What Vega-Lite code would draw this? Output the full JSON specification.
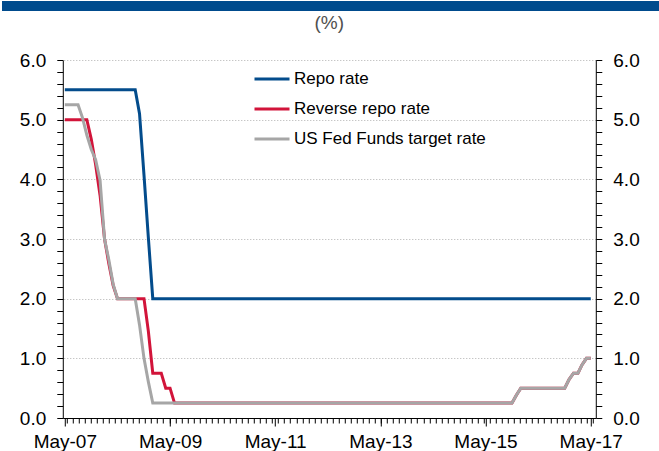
{
  "$schema": "https://vega.github.io/schema/vega-lite/v6.json",
  "padding": 0,
  "background": "white",
  "spacing": 3,
  "center": true,
  "config": {"view": {"stroke": null}, "font": "Liberation Sans"},
  "vconcat": [
    {
      "width": 698,
      "height": 10,
      "view": {"fill": "#004B8D", "stroke": null},
      "data": {"values": [{"t": ""}]},
      "mark": {"type": "text"},
      "encoding": {"text": {"field": "t"}}
    },
    {
      "width": 533,
      "height": 358,
      "title": {"text": "(%)", "fontSize": 19, "font": "Liberation Sans", "fontWeight": "normal", "color": "#505050", "anchor": "middle", "offset": 18},
      "data": {"values": [
        {"date":"2007-05-01","repo":5.5,"reverse":5,"fed":5.25},
        {"date":"2007-06-01","repo":5.5,"reverse":5,"fed":5.25},
        {"date":"2007-07-01","repo":5.5,"reverse":5,"fed":5.25},
        {"date":"2007-08-01","repo":5.5,"reverse":5,"fed":5.25},
        {"date":"2007-09-01","repo":5.5,"reverse":5,"fed":5.03},
        {"date":"2007-10-01","repo":5.5,"reverse":5,"fed":4.74},
        {"date":"2007-11-01","repo":5.5,"reverse":4.67,"fed":4.5},
        {"date":"2007-12-01","repo":5.5,"reverse":4.25,"fed":4.33},
        {"date":"2008-01-01","repo":5.5,"reverse":3.73,"fed":3.98},
        {"date":"2008-02-01","repo":5.5,"reverse":3,"fed":3},
        {"date":"2008-03-01","repo":5.5,"reverse":2.6,"fed":2.66},
        {"date":"2008-04-01","repo":5.5,"reverse":2.22,"fed":2.24},
        {"date":"2008-05-01","repo":5.5,"reverse":2,"fed":2},
        {"date":"2008-06-01","repo":5.5,"reverse":2,"fed":2},
        {"date":"2008-07-01","repo":5.5,"reverse":2,"fed":2},
        {"date":"2008-08-01","repo":5.5,"reverse":2,"fed":2},
        {"date":"2008-09-01","repo":5.5,"reverse":2,"fed":2},
        {"date":"2008-10-01","repo":5.1,"reverse":2,"fed":1.56},
        {"date":"2008-11-01","repo":4.07,"reverse":2,"fed":1},
        {"date":"2008-12-01","repo":3.03,"reverse":1.46,"fed":0.61},
        {"date":"2009-01-01","repo":2,"reverse":0.75,"fed":0.25},
        {"date":"2009-02-01","repo":2,"reverse":0.75,"fed":0.25},
        {"date":"2009-03-01","repo":2,"reverse":0.75,"fed":0.25},
        {"date":"2009-04-01","repo":2,"reverse":0.5,"fed":0.25},
        {"date":"2009-05-01","repo":2,"reverse":0.5,"fed":0.25},
        {"date":"2009-06-01","repo":2,"reverse":0.25,"fed":0.25},
        {"date":"2009-07-01","repo":2,"reverse":0.25,"fed":0.25},
        {"date":"2009-08-01","repo":2,"reverse":0.25,"fed":0.25},
        {"date":"2009-09-01","repo":2,"reverse":0.25,"fed":0.25},
        {"date":"2009-10-01","repo":2,"reverse":0.25,"fed":0.25},
        {"date":"2009-11-01","repo":2,"reverse":0.25,"fed":0.25},
        {"date":"2009-12-01","repo":2,"reverse":0.25,"fed":0.25},
        {"date":"2010-01-01","repo":2,"reverse":0.25,"fed":0.25},
        {"date":"2010-02-01","repo":2,"reverse":0.25,"fed":0.25},
        {"date":"2010-03-01","repo":2,"reverse":0.25,"fed":0.25},
        {"date":"2010-04-01","repo":2,"reverse":0.25,"fed":0.25},
        {"date":"2010-05-01","repo":2,"reverse":0.25,"fed":0.25},
        {"date":"2010-06-01","repo":2,"reverse":0.25,"fed":0.25},
        {"date":"2010-07-01","repo":2,"reverse":0.25,"fed":0.25},
        {"date":"2010-08-01","repo":2,"reverse":0.25,"fed":0.25},
        {"date":"2010-09-01","repo":2,"reverse":0.25,"fed":0.25},
        {"date":"2010-10-01","repo":2,"reverse":0.25,"fed":0.25},
        {"date":"2010-11-01","repo":2,"reverse":0.25,"fed":0.25},
        {"date":"2010-12-01","repo":2,"reverse":0.25,"fed":0.25},
        {"date":"2011-01-01","repo":2,"reverse":0.25,"fed":0.25},
        {"date":"2011-02-01","repo":2,"reverse":0.25,"fed":0.25},
        {"date":"2011-03-01","repo":2,"reverse":0.25,"fed":0.25},
        {"date":"2011-04-01","repo":2,"reverse":0.25,"fed":0.25},
        {"date":"2011-05-01","repo":2,"reverse":0.25,"fed":0.25},
        {"date":"2011-06-01","repo":2,"reverse":0.25,"fed":0.25},
        {"date":"2011-07-01","repo":2,"reverse":0.25,"fed":0.25},
        {"date":"2011-08-01","repo":2,"reverse":0.25,"fed":0.25},
        {"date":"2011-09-01","repo":2,"reverse":0.25,"fed":0.25},
        {"date":"2011-10-01","repo":2,"reverse":0.25,"fed":0.25},
        {"date":"2011-11-01","repo":2,"reverse":0.25,"fed":0.25},
        {"date":"2011-12-01","repo":2,"reverse":0.25,"fed":0.25},
        {"date":"2012-01-01","repo":2,"reverse":0.25,"fed":0.25},
        {"date":"2012-02-01","repo":2,"reverse":0.25,"fed":0.25},
        {"date":"2012-03-01","repo":2,"reverse":0.25,"fed":0.25},
        {"date":"2012-04-01","repo":2,"reverse":0.25,"fed":0.25},
        {"date":"2012-05-01","repo":2,"reverse":0.25,"fed":0.25},
        {"date":"2012-06-01","repo":2,"reverse":0.25,"fed":0.25},
        {"date":"2012-07-01","repo":2,"reverse":0.25,"fed":0.25},
        {"date":"2012-08-01","repo":2,"reverse":0.25,"fed":0.25},
        {"date":"2012-09-01","repo":2,"reverse":0.25,"fed":0.25},
        {"date":"2012-10-01","repo":2,"reverse":0.25,"fed":0.25},
        {"date":"2012-11-01","repo":2,"reverse":0.25,"fed":0.25},
        {"date":"2012-12-01","repo":2,"reverse":0.25,"fed":0.25},
        {"date":"2013-01-01","repo":2,"reverse":0.25,"fed":0.25},
        {"date":"2013-02-01","repo":2,"reverse":0.25,"fed":0.25},
        {"date":"2013-03-01","repo":2,"reverse":0.25,"fed":0.25},
        {"date":"2013-04-01","repo":2,"reverse":0.25,"fed":0.25},
        {"date":"2013-05-01","repo":2,"reverse":0.25,"fed":0.25},
        {"date":"2013-06-01","repo":2,"reverse":0.25,"fed":0.25},
        {"date":"2013-07-01","repo":2,"reverse":0.25,"fed":0.25},
        {"date":"2013-08-01","repo":2,"reverse":0.25,"fed":0.25},
        {"date":"2013-09-01","repo":2,"reverse":0.25,"fed":0.25},
        {"date":"2013-10-01","repo":2,"reverse":0.25,"fed":0.25},
        {"date":"2013-11-01","repo":2,"reverse":0.25,"fed":0.25},
        {"date":"2013-12-01","repo":2,"reverse":0.25,"fed":0.25},
        {"date":"2014-01-01","repo":2,"reverse":0.25,"fed":0.25},
        {"date":"2014-02-01","repo":2,"reverse":0.25,"fed":0.25},
        {"date":"2014-03-01","repo":2,"reverse":0.25,"fed":0.25},
        {"date":"2014-04-01","repo":2,"reverse":0.25,"fed":0.25},
        {"date":"2014-05-01","repo":2,"reverse":0.25,"fed":0.25},
        {"date":"2014-06-01","repo":2,"reverse":0.25,"fed":0.25},
        {"date":"2014-07-01","repo":2,"reverse":0.25,"fed":0.25},
        {"date":"2014-08-01","repo":2,"reverse":0.25,"fed":0.25},
        {"date":"2014-09-01","repo":2,"reverse":0.25,"fed":0.25},
        {"date":"2014-10-01","repo":2,"reverse":0.25,"fed":0.25},
        {"date":"2014-11-01","repo":2,"reverse":0.25,"fed":0.25},
        {"date":"2014-12-01","repo":2,"reverse":0.25,"fed":0.25},
        {"date":"2015-01-01","repo":2,"reverse":0.25,"fed":0.25},
        {"date":"2015-02-01","repo":2,"reverse":0.25,"fed":0.25},
        {"date":"2015-03-01","repo":2,"reverse":0.25,"fed":0.25},
        {"date":"2015-04-01","repo":2,"reverse":0.25,"fed":0.25},
        {"date":"2015-05-01","repo":2,"reverse":0.25,"fed":0.25},
        {"date":"2015-06-01","repo":2,"reverse":0.25,"fed":0.25},
        {"date":"2015-07-01","repo":2,"reverse":0.25,"fed":0.25},
        {"date":"2015-08-01","repo":2,"reverse":0.25,"fed":0.25},
        {"date":"2015-09-01","repo":2,"reverse":0.25,"fed":0.25},
        {"date":"2015-10-01","repo":2,"reverse":0.25,"fed":0.25},
        {"date":"2015-11-01","repo":2,"reverse":0.25,"fed":0.25},
        {"date":"2015-12-01","repo":2,"reverse":0.38,"fed":0.38},
        {"date":"2016-01-01","repo":2,"reverse":0.5,"fed":0.5},
        {"date":"2016-02-01","repo":2,"reverse":0.5,"fed":0.5},
        {"date":"2016-03-01","repo":2,"reverse":0.5,"fed":0.5},
        {"date":"2016-04-01","repo":2,"reverse":0.5,"fed":0.5},
        {"date":"2016-05-01","repo":2,"reverse":0.5,"fed":0.5},
        {"date":"2016-06-01","repo":2,"reverse":0.5,"fed":0.5},
        {"date":"2016-07-01","repo":2,"reverse":0.5,"fed":0.5},
        {"date":"2016-08-01","repo":2,"reverse":0.5,"fed":0.5},
        {"date":"2016-09-01","repo":2,"reverse":0.5,"fed":0.5},
        {"date":"2016-10-01","repo":2,"reverse":0.5,"fed":0.5},
        {"date":"2016-11-01","repo":2,"reverse":0.5,"fed":0.5},
        {"date":"2016-12-01","repo":2,"reverse":0.645,"fed":0.645},
        {"date":"2017-01-01","repo":2,"reverse":0.75,"fed":0.75},
        {"date":"2017-02-01","repo":2,"reverse":0.75,"fed":0.75},
        {"date":"2017-03-01","repo":2,"reverse":0.89,"fed":0.89},
        {"date":"2017-04-01","repo":2,"reverse":1,"fed":1},
        {"date":"2017-05-01","repo":2,"reverse":1,"fed":1}
      ]},
      "transform": [{"fold": ["repo", "reverse", "fed"], "as": ["series", "value"]}],
      "layer": [
        {
          "transform": [{"filter": "datum.series != 'fed'"}],
          "mark": {"type": "line", "strokeWidth": 3},
          "encoding": {
            "x": {
              "field": "date", "type": "temporal",
              "scale": {"type": "utc", "domain": [{"year": 2007, "month": 4, "date": 17, "utc": true}, {"year": 2017, "month": 6, "date": 5, "utc": true}]},
              "axis": {
                "orient": "bottom", "title": null, "grid": false,
                "values": [
                  {"year": 2007, "month": 5, "date": 1, "utc": true},
                  {"year": 2009, "month": 5, "date": 1, "utc": true},
                  {"year": 2011, "month": 5, "date": 1, "utc": true},
                  {"year": 2013, "month": 5, "date": 1, "utc": true},
                  {"year": 2015, "month": 5, "date": 1, "utc": true},
                  {"year": 2017, "month": 5, "date": 1, "utc": true}
                ],
                "format": "%b-%y", "tickSize": 8, "tickColor": "black", "domainColor": "black",
                "labelColor": "black", "labelFontSize": 19, "labelFont": "Liberation Sans", "labelPadding": 6,
                "labelOverlap": false, "labelFlush": false
              }
            },
            "y": {
              "field": "value", "type": "quantitative",
              "scale": {"domain": [0, 6]},
              "axis": {
                "orient": "left", "title": null, "grid": false, "minExtent": 62,
                "values": [0,0.2,0.4,0.6,0.8,1,1.2,1.4,1.6,1.8,2,2.2,2.4,2.6,2.8,3,3.2,3.4,3.6,3.8,4,4.2,4.4,4.6,4.8,5,5.2,5.4,5.6,5.8,6],
                "labelExpr": "abs(datum.value - round(datum.value)) < 0.01 ? format(datum.value, '.1f') : ''",
                "tickSize": 6, "tickColor": "black", "domainColor": "black",
                "labelColor": "black", "labelFontSize": 19, "labelFont": "Liberation Sans", "labelPadding": 11,
                "labelOverlap": false
              }
            },
            "color": {
              "field": "series", "type": "nominal",
              "scale": {"domain": ["repo", "reverse", "fed"], "range": ["#034C8C", "#D2143A", "#A6A6A6"]},
              "legend": {
                "orient": "none", "legendX": 251, "legendY": 70, "direction": "vertical", "title": null,
                "symbolType": "stroke", "symbolSize": 1225, "symbolStrokeWidth": 3, "clipHeight": 16, "rowPadding": 13,
                "labelFontSize": 17, "labelFont": "Liberation Sans", "labelColor": "black", "labelOffset": 3, "padding": 0, "labelLimit": 400,
                "labelExpr": "datum.label == 'repo' ? 'Repo rate' : datum.label == 'reverse' ? 'Reverse repo rate' : 'US Fed Funds target rate'"
              }
            }
          }
        },
        {
          "transform": [{"filter": "datum.series == 'fed'"}],
          "mark": {"type": "line", "strokeWidth": 3},
          "encoding": {
            "x": {
              "field": "date", "type": "temporal",
              "axis": {
                "orient": "bottom", "title": null, "grid": false, "labels": false, "domain": false,
                "tickCount": {"interval": "week", "step": 6}, "tickSize": 5, "tickColor": "black"
              }
            },
            "y": {
              "field": "value", "type": "quantitative",
              "axis": {
                "orient": "right", "title": null, "grid": true,
                "gridDash": [1, 2], "gridColor": "#b0b0b0",
                "gridOpacity": {"condition": {"test": "abs(datum.value - round(datum.value)) < 0.01 && datum.value > 0", "value": 1}, "value": 0},
                "values": [0,0.2,0.4,0.6,0.8,1,1.2,1.4,1.6,1.8,2,2.2,2.4,2.6,2.8,3,3.2,3.4,3.6,3.8,4,4.2,4.4,4.6,4.8,5,5.2,5.4,5.6,5.8,6],
                "labelExpr": "abs(datum.value - round(datum.value)) < 0.01 ? format(datum.value, '.1f') : ''",
                "tickSize": 6, "tickColor": "black", "domainColor": "black",
                "labelColor": "black", "labelFontSize": 19, "labelFont": "Liberation Sans", "labelPadding": 11,
                "labelOverlap": false
              }
            },
            "color": {"field": "series", "type": "nominal"}
          }
        }
      ],
      "resolve": {"axis": {"x": "independent", "y": "independent"}}
    }
  ]
}
